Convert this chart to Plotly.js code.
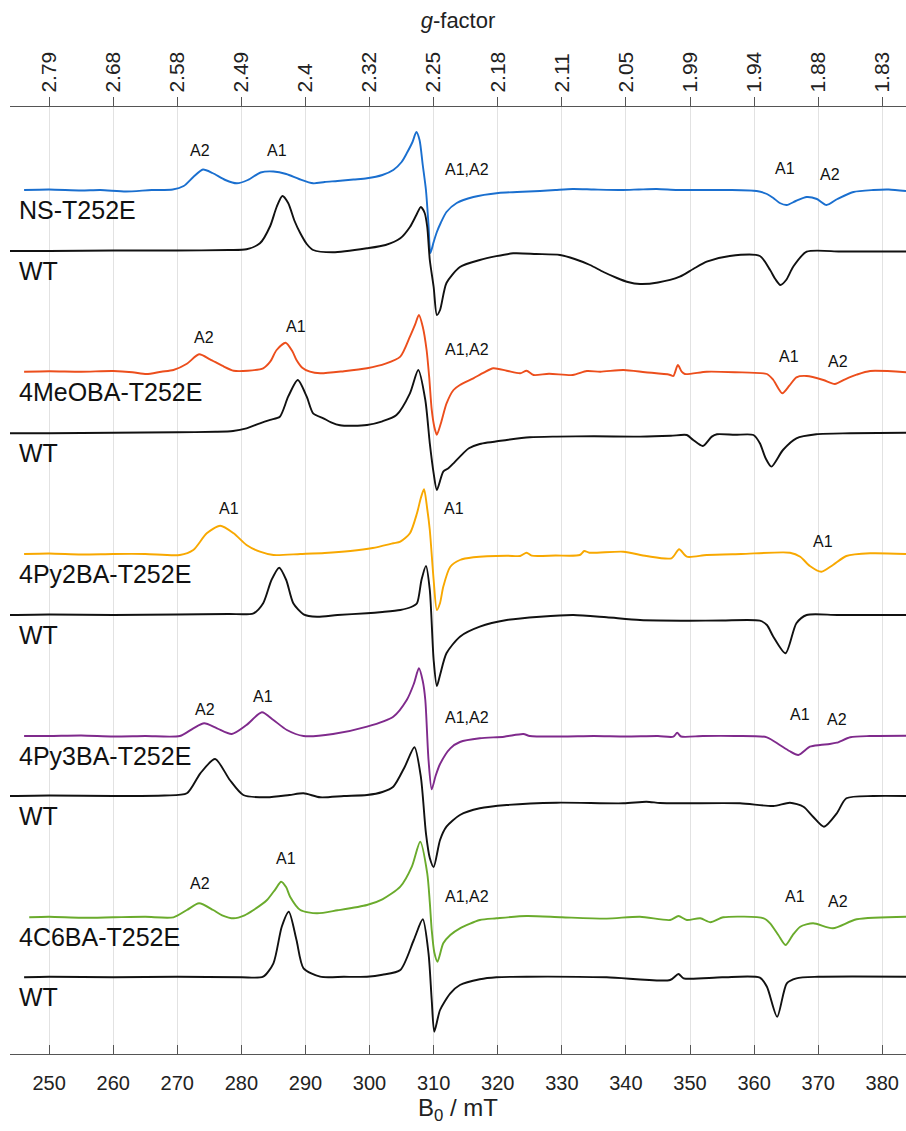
<!DOCTYPE html>
<html>
<head>
<meta charset="utf-8">
<script src="https://cdn.plot.ly/plotly-3.0.1.min.js"></script>
<style>html,body{margin:0;padding:0;background:#fff;}#chart{width:906px;height:1131px;}</style>
</head>
<body>
<div id="chart"></div>
<script>
// ---- tick labels ----
const bTicks = [250,260,270,280,290,300,310,320,330,340,350,360,370,380];
const gTickLabels = ['2.79','2.68','2.58','2.49','2.4','2.32','2.25','2.18','2.11','2.05','1.99','1.94','1.88','1.83'];

// ---- sample names and stacking offsets (baseline of each spectrum) ----
const sampleNames = ['NS-T252E','WT','4MeOBA-T252E','WT','4Py2BA-T252E','WT','4Py3BA-T252E','WT','4C6BA-T252E','WT'];
const sampleOffsets = [864, 803, 682.3, 620.7, 500, 439, 318, 258, 136.7, 76.7];

// ---- spectra: field (mT) and derivative intensity (a.u.) ----
const nsB = [246.1,250,255,258,262,266,269.3,271,272.5,274.0,275.5,277.5,279.3,281,283,285,287,289,291.2,293,295,297.5,299.6,302,303.7,305,305.8,306.7,307.3,307.8,308.3,308.8,309.2,309.5,310.0,310.5,311.1,312,313.6,316.2,320.1,323,326.6,329,331.7,335,339.5,342,344.8,348,352,356,360.4,362,363,364,365.1,366.5,368.2,369.8,371.3,373,375.5,378.6,381,383.7];
const nsI = [0,0.5,-0.5,0,-1.5,0,0.5,4,13,20.5,17,10,6.7,10,17.5,18.5,16,11,6.7,8,9,10.5,11.7,15,20,28,36.7,48,58,50,25,0,-35,-63,-52,-42,-33,-22,-13,-7,-3,-2,-1,0,1,0.5,0,0.5,1,0,0,0,-1,-4,-8,-13,-15,-11,-7,-9,-15,-9,-2,0,0.5,-1];

const wt1B = [243.9,250,260,270,278,280.8,282.9,284.5,285.5,286.4,287.3,288.3,289.2,290.2,291.2,294.3,299.6,302.5,304.8,306.3,307.3,308,308.6,309,309.4,310,310.5,311,312,314.1,317.2,322.4,326,329.7,332,334.4,336.5,338.6,340.3,342.2,345,348.4,350.5,352.6,356.2,360.9,362.5,363.3,364.1,365,366.1,368.2,373.4,378,383.7];
const wt1I = [0,0,0.5,0.5,1,1.7,7.7,25,44,55,48,30,17.7,7,1,-1.3,2.7,6,12.7,24,36,44,38,24,-9,-36,-64,-59,-32,-16,-9,-2.3,-3,-4,-8,-14,-21,-27,-31,-33,-31.5,-25.7,-18,-10.7,-5,-5,-19,-28,-34,-29,-15.7,-0.7,-0.5,-0.5,-0.5];

const meoB = [246.1,250,255,260,263,265.2,267.5,269.4,271.5,273.4,275.1,277,278.8,281,283.4,284.5,285.5,286.9,288,288.6,289.5,290.7,292.3,296,299.6,302.5,304.8,306.3,307.1,307.7,308.3,308.9,309.3,309.7,310.1,310.5,311.2,312,313.1,314.1,316.2,317.8,319.3,321.4,323.5,324.5,325.6,328,331.7,333.9,336,339.6,343,346.8,347.4,348.1,348.7,349.2,352.6,357,362,363,364.4,365.5,366.6,368.2,370.8,372.6,374.2,376,378.1,383.7];
const meoI = [0,0.5,0,0.7,-0.5,-2.3,0,1.7,8,17.4,12.4,6,1,1,3.4,10,21.7,29,20,11.7,4,0,-1.6,0.5,3.4,8,15,35,47,56.7,45,21.7,-5,-38,-55,-63,-50,-32,-18.3,-13.3,-6.6,-1,3.4,1,-1.6,1,-3.3,-2,-3.3,0.7,0,1.7,-0.5,-3,-4.3,6.7,0,-2.3,0,-0.5,-2.3,-8.3,-21.6,-14,-5.6,-4.3,-8.3,-12.3,-7.6,-3,0.7,-0.6];

const wt2B = [243.9,250,260,270,276,278.7,280.8,282.9,284.5,286,287.3,288.8,290.2,291.2,292.8,294,295.4,297.5,299.6,302,304.2,306.3,307.6,308.7,309.4,310,310.5,311.5,312.3,313.1,314.1,315.5,317.2,321.4,325,329.2,335,342.2,347,349.5,350.5,352,353.4,354.2,357,359.9,360.9,361.8,362.7,364.5,366.6,369.7,375,383.7];
const wt2I = [0,0,0.5,1,1.5,2.3,5,10,13.5,16.6,36.6,53.3,36.6,20,15,11,8,7.5,8.3,12,18.3,40,63.3,33.3,-10,-40,-56.7,-38.3,-35,-30,-23.3,-15,-10.7,-6.7,-4,-3.3,-3,-3.3,-2.5,-1.7,-6.7,-12.7,-3.3,-1,-1.5,-1.7,-10,-25,-33.3,-16.7,-5,-1,0,0.6];

const py2B = [246.1,250,255,260,265,270.4,272.5,274.6,276.7,278.8,280.8,282.9,285,289.2,293,297,300.5,303.7,304.8,306.3,307.4,308,308.5,309,309.4,310,310.5,311,311.5,312.6,314.1,316.2,321.4,323.5,324.5,325.3,329,332.8,333.5,334.3,339.6,343.2,347.1,348.3,349.5,352.6,358,365.6,367.2,368.7,370.5,372.3,374.4,378.1,383.7];
const py2I = [0,0.5,-0.5,0,0,-1,4,20.7,28.3,20.7,9,2.3,-1,0,1,3,6,10.7,12.3,20.7,40.7,56,64.7,45,24,-26,-56,-49,-32.7,-12.7,-6,-3.3,-1.7,-2,1.3,-1.7,-1.5,-1,3,1.3,2.3,-2,-4.3,4.7,-2.7,-1,0,1.3,-2.7,-12,-17.7,-11,-2,0.7,0];

const wt3B = [243.9,250,260,270,278,281.9,283.4,284.7,285.9,287,288.1,289.7,291.8,295,299.6,302,304.8,306.5,307.4,308.1,308.8,309.4,310,310.5,311,312,314.1,317.2,321.4,326.6,331.8,337,342.2,350,355,360.9,362,363,364.9,366.6,368.2,373,383.7];
const wt3I = [0,0.5,0,0.5,1,1.7,11.7,35,47.3,35,11.7,0.7,-1.7,0,1.7,3,5,8,11.7,35,49,25,-45,-71,-60,-38.3,-21.7,-11.7,-5,-1.7,0,-2.3,-5,-5.7,-5.5,-5.7,-10,-21.7,-38.3,-8.3,0,0,0];

const py3B = [246.1,250,255,260,265,270.4,272.5,274.2,276.2,278.5,280.8,283.2,285,287.1,289.7,294.3,299.6,303.7,305.8,306.9,307.7,308.3,308.7,309.2,309.7,310.3,311,312.6,314.1,317.2,321,324,325,330,335,340,345,347.4,348,348.6,352,357,362,364,365.5,366.9,368.7,370.3,371.8,372.9,375,378,383.7];
const py3I = [0,0,0.5,-0.5,0,0,7.7,12.7,7.7,2,11,23.7,16,6,0,2,9.3,19.3,36,52,67.7,55,36,-24,-53.3,-40,-28,-12.3,-6,-2.3,-0.7,2,0,-0.5,0,-0.5,0,-0.7,3.3,-0.5,0,0,-1.3,-9,-15,-19,-10.7,-9,-8,-6.7,-1.3,0,0.3];

const wt4B = [243.9,250,260,268,271.5,273.6,275.9,278.2,280.3,284,287.5,289.7,292.3,296,299.6,302,303.7,305.5,307,308,308.8,309.4,310,311,312,314.1,317.2,321.4,329.2,339.6,343.2,345.3,348.9,357.8,363,365.6,367.7,369.2,370.9,372.9,374.4,378.6,383.7];
const wt4I = [0,0.5,0,0.5,2.7,22.7,37,16,1,-1.3,1,2.7,-1.3,0,1,4,9.3,29.3,48.7,19.3,-37.3,-62,-71,-44,-30.7,-19,-12.3,-9,-6.7,-7.3,-5.7,-7,-7.3,-7.3,-10,-6.7,-10.7,-20.7,-30.7,-17.3,-2.3,0,0];

const c6B = [246.9,250,255,260,265,269.4,271.5,273.4,275.6,277,278.8,280.5,281.9,284,285.3,286.2,287,287.6,289.2,291.8,295,299.6,302,304.8,306.6,307.9,309,309.4,309.7,310.1,310.6,311.5,312.6,314.1,317.2,319.8,324.5,330,337,342.2,346.9,348.2,349.5,351.6,353.2,355.2,361.5,362.5,363.8,364.9,366,367.2,369.2,372.3,376,383.7];
const c6I = [0,0.5,-0.5,0,0.5,0,7.3,14,7.3,2,-1,2,7.3,17.3,28,35.6,30,20.6,7.3,4,7,12.3,18,30.6,50.6,75.6,44,15,-12.7,-35,-44.4,-26,-17.7,-11,-2.7,-1,1.3,0,-1.3,0.6,-2.7,1.3,-2.7,-1,-5,0,-1,-6,-18,-27.7,-18,-9.4,-6,-11,-2,0.6];

const wt5B = [246.1,250,260,270,280,283.4,285,286.3,287.4,288.6,289.7,292.3,296,299.6,302,304.8,306.9,308.3,309.2,309.7,310.1,311,312.6,314.1,317.2,319.8,324.5,337,346.9,348.2,349,355,360.9,362,363.6,365.1,366.6,370,383.7];
const wt5I = [0,0.5,0,0.5,0,0.6,14,50.6,65.6,37.3,9,0.6,0.5,0.6,2.5,7.3,37.3,58,24,-22.7,-54.4,-32.7,-16,-7.7,-2,0,0.6,0,-2.7,3.3,-1,0,-0.3,-9.4,-39.4,-6,-1,0.5,0.6];

// ---- peak assignment labels: [trace index, field, height above baseline, text] ----
const peakLabelTrace = [0,0,0,0,0, 2,2,2,2,2, 4,4,4, 6,6,6,6,6, 8,8,8,8,8];
const peakLabelField = [273.6,285.6,315.2,364.8,371.8, 274.2,288.5,315.2,365.4,373.1, 278.1,313.2,370.8, 274.3,283.3,315.2,367.2,372.9, 273.6,287,315.2,366.4,373.1];
const peakLabelHeight = [40,40,21,22,16, 34,45,22,15,10, 46,46,13, 27,40,19,22,17, 34,59,21,21,16];
const peakLabelText = ['A2','A1','A1,A2','A1','A2', 'A2','A1','A1,A2','A1','A2', 'A1','A1','A1', 'A2','A1','A1,A2','A1','A2', 'A2','A1','A1,A2','A1','A2'];

// ---- styling ----
const seriesB = [nsB, wt1B, meoB, wt2B, py2B, wt3B, py3B, wt4B, c6B, wt5B];
const seriesI = [nsI, wt1I, meoI, wt2I, py2I, wt3I, py3I, wt4I, c6I, wt5I];
const colors = ['#1a6fcf','#111111','#ec4e1c','#111111','#f8a800','#111111','#7f2a8c','#111111','#6aab2c','#111111'];

const traces = seriesB.map((bx, k) => ({
  type: 'scatter', mode: 'lines',
  x: bx,
  y: seriesI[k].map(v => v + sampleOffsets[k]),
  line: {color: colors[k], width: 1.9, shape: 'spline', smoothing: 0.7},
  showlegend: false, hoverinfo: 'skip', xaxis: 'x', yaxis: 'y'
}));
// empty trace to activate the top g-factor axis
traces.push({type: 'scatter', mode: 'lines', x: [], y: [], xaxis: 'x2', yaxis: 'y', showlegend: false, hoverinfo: 'skip'});

const FONT = 'Liberation Sans, Arial, Helvetica, sans-serif';
const annotations = [];
sampleNames.forEach((name, k) => {
  annotations.push({
    xref: 'paper', yref: 'y', x: 0.008, y: sampleOffsets[k] - 20,
    xanchor: 'left', yanchor: 'middle', text: name, showarrow: false,
    font: {family: FONT, size: 25, color: '#111'}
  });
});
peakLabelText.forEach((t, i) => {
  annotations.push({
    xref: 'x', yref: 'y', x: peakLabelField[i],
    y: sampleOffsets[peakLabelTrace[i]] + peakLabelHeight[i],
    xanchor: 'center', yanchor: 'middle', text: t, showarrow: false,
    font: {family: FONT, size: 16, color: '#111'}
  });
});

const xRange = [243.9, 383.7];
const layout = {
  width: 906, height: 1131,
  margin: {l: 10, r: 0, t: 107, b: 77, pad: 0},
  paper_bgcolor: '#fff', plot_bgcolor: '#fff',
  font: {family: FONT, color: '#222'},
  xaxis: {
    range: xRange, tickmode: 'array', tickvals: bTicks, ticktext: bTicks.map(String),
    ticks: 'inside', ticklen: 9, tickcolor: '#555', tickwidth: 1,
    showline: true, linecolor: '#555', linewidth: 1.2,
    showgrid: true, gridcolor: '#e2e2e2', gridwidth: 1, zeroline: false,
    ticklabelstandoff: 11,
    tickfont: {family: FONT, size: 20, color: '#222'},
    title: {text: 'B<sub>0</sub> / mT', font: {family: FONT, size: 24, color: '#222'}, standoff: 6}
  },
  xaxis2: {
    overlaying: 'x', side: 'top', anchor: 'y', range: xRange,
    tickmode: 'array', tickvals: bTicks, ticktext: gTickLabels, tickangle: -90,
    ticks: 'outside', ticklen: 9, tickcolor: '#555', tickwidth: 1,
    showline: true, linecolor: '#555', linewidth: 1.2,
    showgrid: false, zeroline: false,
    tickfont: {family: FONT, size: 21, color: '#222'},
    title: {text: '<i>g</i>-factor', font: {family: FONT, size: 22, color: '#222'}, standoff: 16}
  },
  yaxis: {range: [0, 947], visible: false, fixedrange: true},
  annotations: annotations
};

Plotly.newPlot('chart', traces, layout, {staticPlot: true, displayModeBar: false});
</script>
</body>
</html>
